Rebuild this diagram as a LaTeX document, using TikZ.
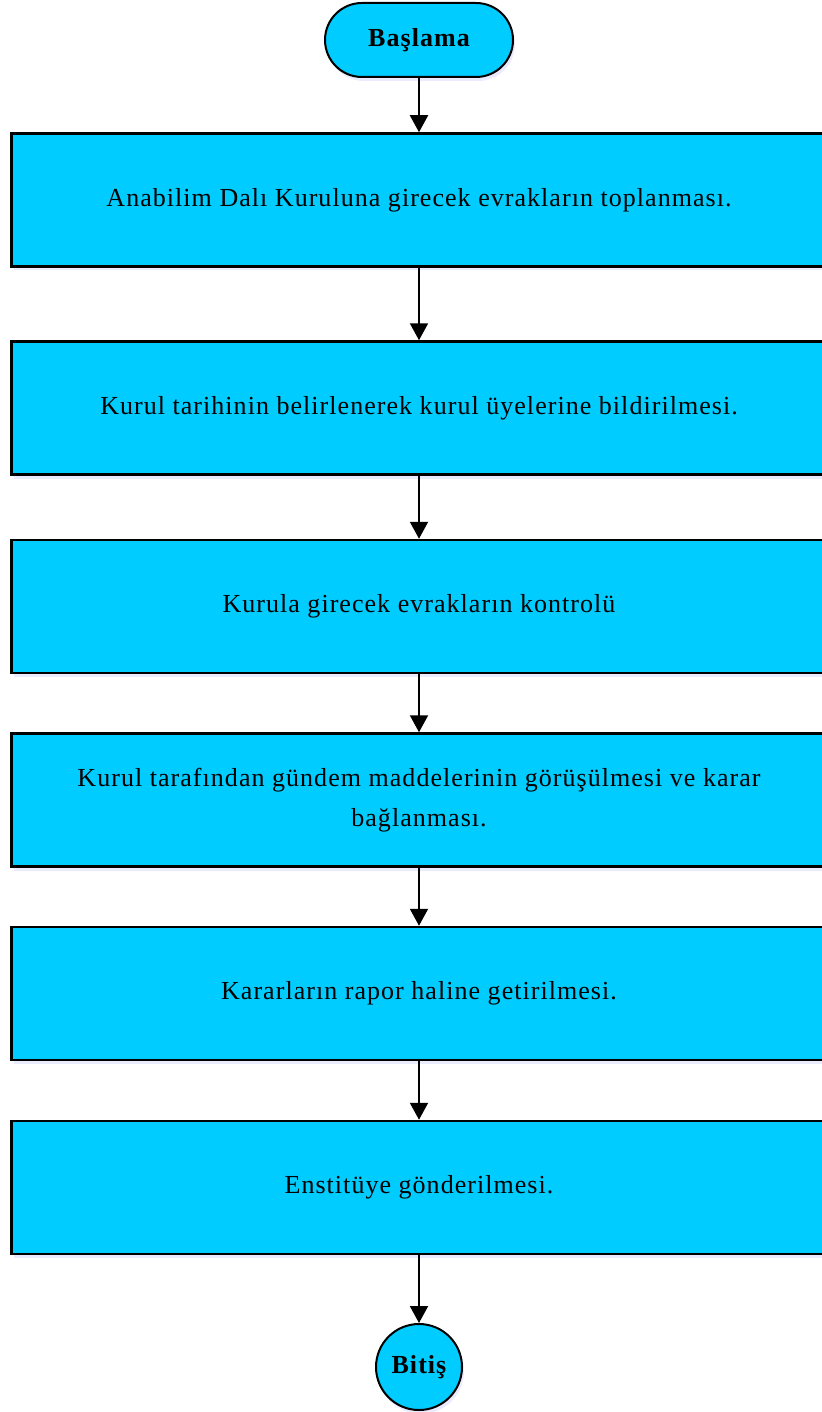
\documentclass[tikz,border=0pt]{standalone}
\usepackage{fontspec}
\setmainfont{Liberation Serif}[LetterSpace=4]
\usetikzlibrary{arrows.meta,shadows}
\definecolor{boxfill}{HTML}{00CCFF}
\tikzset{
  px/.style={x=1pt,y=-1pt},
  stepbox/.style={draw=black,line width=2.5pt,fill=boxfill,minimum width=815pt,minimum height=133pt,inner sep=0pt,align=center,font=\fontsize{26}{40}\selectfont,
    drop shadow={shadow xshift=2pt,shadow yshift=-4pt,fill=blue!20,opacity=0.4}},
  term/.style={draw=black,line width=2pt,fill=boxfill,rounded corners=37pt,minimum width=188pt,minimum height=74pt,inner sep=0pt,font=\bfseries\fontsize{26}{30}\selectfont,
    drop shadow={shadow xshift=2pt,shadow yshift=-4pt,fill=blue!20,opacity=0.4}},
  endc/.style={draw=black,line width=2pt,fill=boxfill,circle,minimum size=86pt,inner sep=0pt,font=\bfseries\fontsize{26}{30}\selectfont,
    drop shadow={shadow xshift=2pt,shadow yshift=-4pt,fill=blue!20,opacity=0.4}},
  arr/.style={line width=2pt,-{Triangle[width=18pt,length=17pt]}}
}
\begin{document}
\begin{tikzpicture}[px]
\useasboundingbox (0,0) rectangle (821,1412);
\node[term] (start) at (419,40) {Başlama};
\node[stepbox] (b1) at (419,200) {Anabilim Dalı Kuruluna girecek evrakların toplanması.};
\node[stepbox] (b2) at (419,408) {Kurul tarihinin belirlenerek kurul üyelerine bildirilmesi.};
\node[stepbox] (b3) at (419,606.5) {Kurula girecek evrakların kontrolü};
\node[stepbox] (b4) at (419,800) {Kurul tarafından gündem maddelerinin görüşülmesi ve karar\\bağlanması.};
\node[stepbox] (b5) at (419,993.5) {Kararların rapor haline getirilmesi.};
\node[stepbox] (b6) at (419,1187.5) {Enstitüye gönderilmesi.};
\node[endc] (end) at (419,1367) {Bitiş};
\draw[arr] (start) -- (b1);
\draw[arr] (b1) -- (b2);
\draw[arr] (b2) -- (b3);
\draw[arr] (b3) -- (b4);
\draw[arr] (b4) -- (b5);
\draw[arr] (b5) -- (b6);
\draw[arr] (b6) -- (end);
\end{tikzpicture}
\end{document}
